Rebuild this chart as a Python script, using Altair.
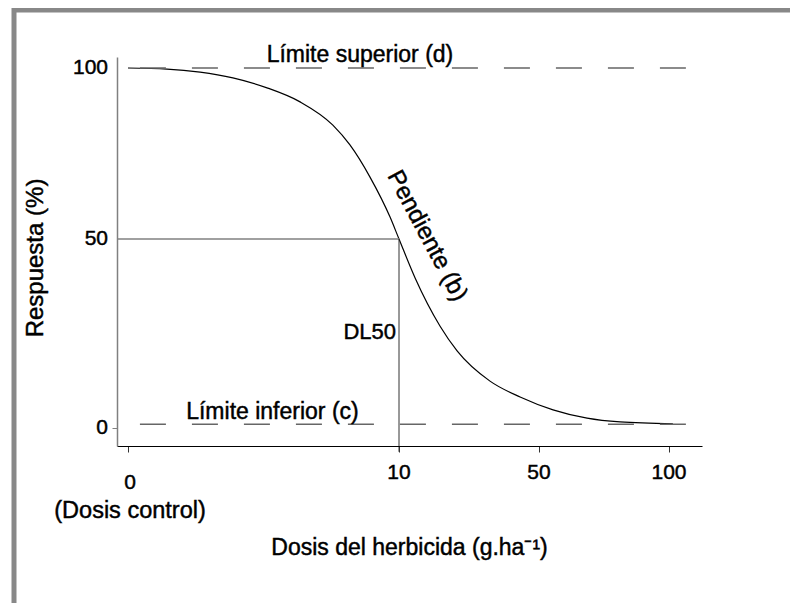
import altair as alt
import pandas as pd

# ---- data ----
curve_dose = [0, 1.44, 2.66, 3.87, 5.13, 6.35, 7.56, 8.19, 8.93, 9.67, 10,
              14.6, 21.7, 26.6, 36.0, 44.6, 55.4, 68.5, 81.2, 101.5]
curve_resp = [100, 99.7, 98.8, 97.1, 94.2, 90.1, 83.3, 77.5, 68.1, 56.4, 50,
              39.7, 27.0, 20.4, 12.4, 8.2, 4.8, 2.6, 1.6, 1.1]

x_ticks = [0, 10, 50, 100]
x_tick_labels = ["", "10", "50", "100"]
y_ticks = [0, 50, 100]
y_tick_labels = ["0", "50", "100"]

limit_names = ["Límite superior (d)", "Límite inferior (c)"]
limit_resp = [100, 1]
limit_from = [0.44, 0.44]
limit_to = [106.5, 106.5]

dl50_dose = 10
dl50_resp = 50

x_title = "Dosis del herbicida (g.ha⁻¹)"
y_title = "Respuesta (%)"

# schematic (piecewise) axes of the original figure
x_domain = [-0.41, 0, 10, 50, 100, 112.7]
x_range = [0, 11, 282, 422, 552, 585]
y_domain = [-4.76, 0, 50, 100, 103.2]
y_range = [389, 371, 182, 11, 0]

FONT = "Liberation Sans"
W, H = 585, 389

xs = alt.Scale(domain=x_domain, range=x_range, nice=False, zero=False)
ys = alt.Scale(domain=y_domain, range=y_range, nice=False, zero=False)

x_axis = alt.Axis(
    values=x_ticks, labels=False, tickSize=6, tickColor="#333333",
    domainColor="black", domainWidth=1, grid=False, title="", zindex=1)
y_axis = alt.Axis(
    values=y_ticks, labels=False, tickSize=5, tickColor="#808080",
    tickOpacity={"condition": {"test": "datum.value === 0", "value": 1}, "value": 0},
    domainColor="#808080", domainWidth=1.5, grid=False, title="", zindex=1)

X = alt.X("dose:Q", scale=xs, axis=x_axis)
Y = alt.Y("resp:Q", scale=ys, axis=y_axis)

curve_df = pd.DataFrame({"dose": curve_dose, "resp": curve_resp})
limits_df = pd.DataFrame({"name": limit_names, "resp": limit_resp,
                          "dose": limit_from, "dose2": limit_to})

one = alt.Data(values=[{}])

frame = alt.Chart(one).mark_rect(
    fill="white", fillOpacity=0, stroke="#888888", strokeWidth=5
).encode(x=alt.value(-103), x2=alt.value(W + 300),
         y=alt.value(-47), y2=alt.value(H + 300))

curve = alt.Chart(curve_df).mark_line(
    color="black", strokeWidth=1.2, interpolate="monotone"
).encode(x=X, y=Y)

limits = alt.Chart(limits_df).mark_rule(
    color="#666666", strokeWidth=1.5, strokeDash=[26, 26]
).encode(x=X, x2="dose2:Q", y=Y)

h50 = alt.Chart(pd.DataFrame({"dose": [-0.41], "dose2": [dl50_dose], "resp": [dl50_resp]})).mark_rule(
    color="#808080", strokeWidth=1.5
).encode(x=X, x2="dose2:Q", y=Y)

v50 = alt.Chart(pd.DataFrame({"dose": [dl50_dose], "resp": [dl50_resp], "resp2": [-6.3]})).mark_rule(
    color="#333333", strokeWidth=1
).encode(x=X, y=Y, y2="resp2:Q")

TXT = dict(font=FONT, color="black", stroke="black", strokeWidth=0.45)

# tick labels
xlab = alt.Chart(pd.DataFrame({"dose": x_ticks, "label": x_tick_labels})).mark_text(
    fontSize=21, align="center", baseline="middle", **TXT
).encode(x=X, y=alt.value(416), text="label:N")

ylab = alt.Chart(pd.DataFrame({"resp": y_ticks, "label": y_tick_labels})).mark_text(
    fontSize=21, align="right", baseline="middle", **TXT
).encode(y=Y, x=alt.value(-9), text="label:N")

# axis titles
xtitle = alt.Chart(pd.DataFrame({"label": [x_title]})).mark_text(
    fontSize=23, align="center", baseline="middle", **TXT
).encode(x=alt.value(W / 2), y=alt.value(491), text="label:N")

ytitle = alt.Chart(pd.DataFrame({"label": [y_title]})).mark_text(
    fontSize=24, align="center", baseline="middle", angle=270, **TXT
).encode(x=alt.value(-81), y=alt.value(201), text="label:N")

ann_df = pd.DataFrame({
    "label": limit_names,
    "dose": [8.56, 5.33], "resp": [101.8, 2.4]})
ann = alt.Chart(ann_df).mark_text(
    fontSize=23, align="center", baseline="alphabetic", **TXT
).encode(x=X, y=Y, text="label:N")

dl50_txt = alt.Chart(pd.DataFrame({"label": ["DL50"], "dose": [dl50_dose], "resp": [23.5]})).mark_text(
    fontSize=22, align="right", baseline="alphabetic", dx=-3, **TXT
).encode(x=X, y=Y, text="label:N")

slope_txt = alt.Chart(pd.DataFrame({"label": ["Pendiente (b)"], "dose": [18.0], "resp": [50.9]})).mark_text(
    fontSize=24, align="center", baseline="middle", angle=62, **TXT
).encode(x=X, y=Y, text="label:N")

zero_lbl = alt.Chart(pd.DataFrame({"label": ["0"], "dose": [0]})).mark_text(
    fontSize=21, align="center", baseline="middle", dx=2, **TXT
).encode(x=X, y=alt.value(426), text="label:N")

ctrl_lbl = alt.Chart(pd.DataFrame({"label": ["(Dosis control)"], "dose": [0]})).mark_text(
    fontSize=23.5, align="center", baseline="middle", dx=2, **TXT
).encode(x=X, y=alt.value(454), text="label:N")

chart = alt.layer(
    curve, frame, limits, h50, v50, xlab, ylab, xtitle, ytitle,
    ann, dl50_txt, slope_txt, zero_lbl, ctrl_lbl
).properties(
    width=W, height=H,
    autosize=alt.AutoSizeParams(type="none"),
    padding={"left": 109, "top": 49, "right": 88, "bottom": 157},
    background="white",
).configure_view(stroke=None)

chart.save("out.html", embed_options={"renderer": "svg", "actions": False})
